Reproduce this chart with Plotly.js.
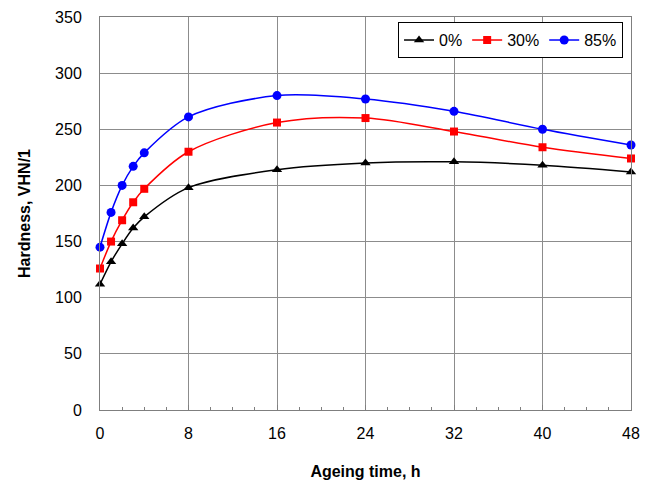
<!DOCTYPE html>
<html><head><meta charset="utf-8">
<script src="https://cdn.plot.ly/plotly-3.0.1.min.js"></script>
<style>body{margin:0;padding:0;background:#fff}#chart{width:650px;height:486px}</style>
</head><body><div id="chart"></div>
<script>
const times = [0, 1, 2, 3, 4, 8, 16, 24, 32, 40, 48];
const series0 = [112, 132, 148, 162, 172, 198, 214, 220, 221, 218, 212];
const series30 = [126, 150, 169, 185, 197, 230, 256, 260, 248, 234, 224];
const series85 = [145, 176, 200, 217, 229, 261, 280, 277, 266, 250, 236];
const names = ['0%', '30%', '85%'];
const xTicks = [0, 8, 16, 24, 32, 40, 48];
const yTicks = [0, 50, 100, 150, 200, 250, 300, 350];

const mk = (y, name, color, symbol, size) => ({
  x: times, y: y, name: name, type: 'scatter', mode: 'lines+markers',
  line: {color: color, width: 1.5, shape: 'spline', smoothing: 0.9},
  marker: {color: color, symbol: symbol, size: size},
  cliponaxis: false
});
const data = [
  mk(series0, names[0], '#000000', 'triangle-up', 9),
  mk(series30, names[1], '#ff0000', 'square', 8),
  mk(series85, names[2], '#0000ff', 'circle', 9)
];
const fam = 'Liberation Sans, Arial, sans-serif';
const layout = {
  width: 650, height: 486,
  margin: {l: 100, r: 19, t: 17, b: 76},
  paper_bgcolor: '#fff', plot_bgcolor: '#fff',
  font: {family: fam, size: 16, color: '#000'},
  showlegend: true,
  legend: {orientation: 'h', x: 0.985, xanchor: 'right', y: 0.987, yanchor: 'top',
    bordercolor: '#000', borderwidth: 1, bgcolor: '#fff',
    font: {family: fam, size: 16}, itemwidth: 30, tracegroupgap: 0},
  xaxis: {
    range: [0, 48], tickvals: xTicks, ticktext: xTicks.map(String),
    showgrid: true, gridcolor: '#8c8c8c', gridwidth: 1,
    showline: true, linecolor: '#7f7f7f', mirror: true, linewidth: 1,
    ticks: 'inside', ticklen: 5, tickcolor: '#7f7f7f',
    minor: {dtick: 2, ticks: 'inside', ticklen: 3, tickcolor: '#7f7f7f', showgrid: false},
    zeroline: false, ticklabelstandoff: 9,
    title: {text: 'Ageing time, h', font: {family: fam, size: 16, weight: 'bold'}, standoff: 24}
  },
  yaxis: {
    range: [0, 350], tickvals: yTicks, ticktext: yTicks.map(String),
    showgrid: true, gridcolor: '#8c8c8c', gridwidth: 1,
    showline: true, linecolor: '#7f7f7f', mirror: true, linewidth: 1,
    ticks: '', zeroline: false, ticklabelstandoff: 14,
    title: {text: 'Hardness, VHN/1', font: {family: fam, size: 16, weight: 'bold'}, standoff: 20}
  }
};
Plotly.newPlot('chart', data, layout, {displayModeBar: false, staticPlot: true});
</script></body></html>
